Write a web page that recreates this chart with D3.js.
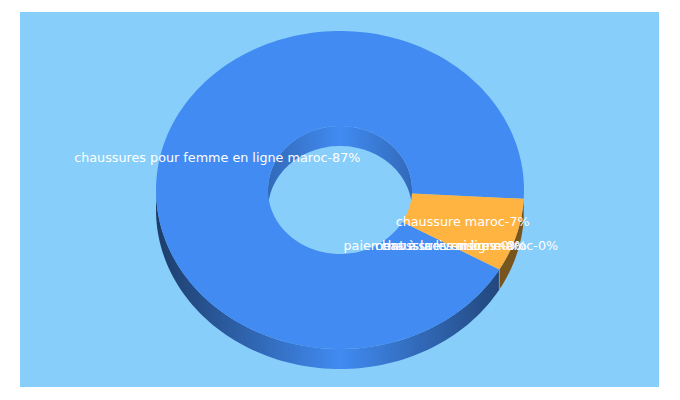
<!DOCTYPE html>
<html>
<head>
<meta charset="utf-8">
<script src="https://cdnjs.cloudflare.com/ajax/libs/d3/7.8.5/d3.min.js"></script>
<style>
html, body { margin: 0; padding: 0; background: #fff; }
svg { display: block; }
.label { font-family: "DejaVu Sans", sans-serif; font-size: 12.75px; fill: #fff; text-anchor: middle; }
</style>
</head>
<body>
<div id="chart"></div>
<script>
const keywords = [
   "chaussures pour femme en ligne maroc",
   "chaussure maroc",
   "paiement à la livraison maroc",
   "chaussures en ligne",
   "chaussures mères"
];
const shares = [87, 7, 0, 0, 0];
const colours = ["#418bf2", "#ffb340", "#418bf2", "#418bf2", "#418bf2"];

const width = 680;
const height = 400;
const panel = { x: 20, y: 12, w: 639, h: 375, fill: "#87cefa" };

const cx = 340, cy = 190;
const rx = 184, ry = 159;
const holeRx = 72, holeRy = 64;
const depth = 20;
const startDeg = 30;

const svg = d3.select("#chart").append("svg")
   .attr("width", width)
   .attr("height", height);

const rad = d => d * Math.PI / 180;

// d3.pie measures from north, the squashed disc below from east
const pie = d3.pie().sort(null).value(d => d)
   .startAngle(rad(startDeg + 90))
   .endAngle(rad(startDeg + 90 + 360));
const arcs = pie(shares).map((a, i) => ({
   i: i,
   from: a.startAngle - Math.PI / 2,
   to: a.endAngle - Math.PI / 2
}));

function ell(a, k) {
   return [cx + (k ? rx : holeRx) * Math.cos(a), cy + (k ? ry : holeRy) * Math.sin(a)];
}

// wall shade: bright where it faces the viewer, dark at the sides
const defs = svg.append("defs");
function wallGradient(id, colour, x0, x1, k) {
   const dark = d3.color(colour).darker(k);
   const g = defs.append("linearGradient").attr("id", id)
      .attr("gradientUnits", "userSpaceOnUse")
      .attr("x1", x0).attr("x2", x1).attr("y1", 0).attr("y2", 0);
   g.append("stop").attr("offset", 0).attr("stop-color", dark);
   g.append("stop").attr("offset", 0.5).attr("stop-color", colour);
   g.append("stop").attr("offset", 1).attr("stop-color", dark);
}
wallGradient("outerBlue", colours[0], cx - rx, cx + rx, 2.3);
wallGradient("innerBlue", colours[0], cx - holeRx, cx + holeRx, 0.75);

svg.append("rect")
   .attr("x", panel.x).attr("y", panel.y)
   .attr("width", panel.w).attr("height", panel.h)
   .attr("fill", panel.fill);

function band(from, to, outer, dy0, dy1) {
   const n = 90, pts = [];
   for (let j = 0; j <= n; j++) {
      const p = ell(from + (to - from) * j / n, outer);
      pts.push([p[0], p[1] + dy0]);
   }
   for (let j = n; j >= 0; j--) {
      const p = ell(from + (to - from) * j / n, outer);
      pts.push([p[0], p[1] + dy1]);
   }
   return d3.line()(pts) + "Z";
}

// far side of the hole
svg.append("path")
   .attr("d", band(Math.PI, 2 * Math.PI, false, 0, depth))
   .attr("fill", "url(#innerBlue)");

// outer wall, front half only
const blue = arcs[0], orange = arcs[1];
svg.append("path")
   .attr("d", band(blue.from, Math.PI, true, 0, depth))
   .attr("fill", "url(#outerBlue)");
svg.append("path")
   .attr("d", band(orange.from, orange.to, true, 0, depth))
   .attr("fill", d3.color(colours[1]).darker(2.1));

// pale seam where the orange wall meets the blue one
const seam = ell(orange.to, true);
svg.append("line")
   .attr("x1", seam[0]).attr("x2", seam[0])
   .attr("y1", seam[1]).attr("y2", seam[1] + depth)
   .attr("stroke", "#8fa3b8")
   .attr("stroke-width", 0.8);

function face(a) {
   const n = 180, pts = [];
   for (let j = 0; j <= n; j++) pts.push(ell(a.from + (a.to - a.from) * j / n, true));
   for (let j = n; j >= 0; j--) pts.push(ell(a.from + (a.to - a.from) * j / n, false));
   return d3.line()(pts) + "Z";
}

// top faces
svg.selectAll("path.face")
   .data(arcs.filter(a => a.to > a.from))
   .enter()
   .append("path")
   .attr("class", "face")
   .attr("d", face)
   .attr("fill", d => colours[d.i]);

svg.selectAll("text.label")
   .data(arcs)
   .enter()
   .append("text")
   .attr("class", "label")
   .attr("x", d => cx + (rx + holeRx) / 2 * Math.cos((d.from + d.to) / 2))
   .attr("y", d => cy + (ry + holeRy) / 2 * Math.sin((d.from + d.to) / 2) + 4)
   .text(d => `${keywords[d.i]}-${shares[d.i]}%`);
</script>
</body>
</html>
